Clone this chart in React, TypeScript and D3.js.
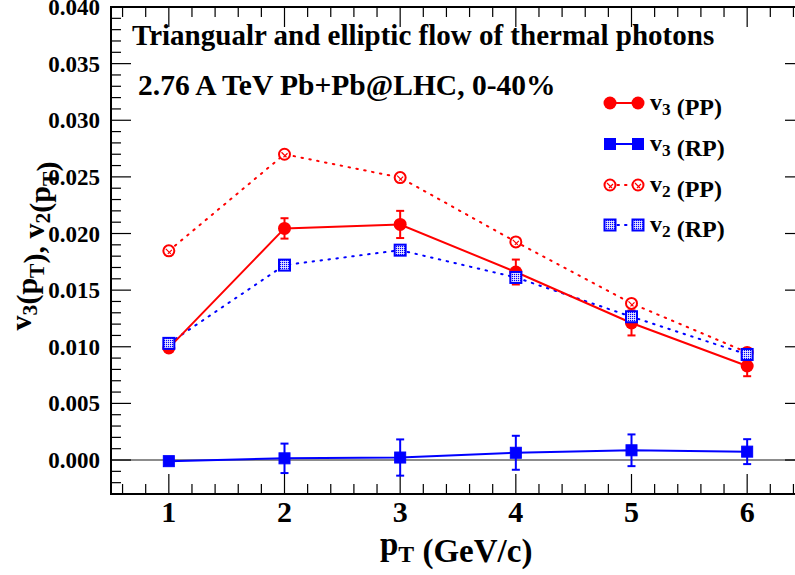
import React from 'react';
import * as d3 from 'd3';

const pt = [1, 2, 3, 4, 5, 6];
const v3PP = [0.0099, 0.02045, 0.0208, 0.0166, 0.0121, 0.0083];
const v3PPErr = [0.0003, 0.0009, 0.0012, 0.0011, 0.0011, 0.0009];
const v3RP = [-0.0001, 0.00015, 0.00022, 0.00064, 0.00086, 0.00074];
const v3RPErr = [0.0003, 0.0013, 0.0016, 0.0015, 0.0014, 0.0011];
const v2PP = [0.01847, 0.0270, 0.02494, 0.01926, 0.01383, 0.0095];
const v2RP = [0.0103, 0.01721, 0.01853, 0.01612, 0.01265, 0.00932];
const yTicks = [0, 0.005, 0.01, 0.015, 0.02, 0.025, 0.03, 0.035, 0.04];
const xTicks = [1, 2, 3, 4, 5, 6];

const W = 795;
const H = 575;
const left = 111;
const top = 7;
const bottom = 494;
const right = 805;
const RED = '#ff0000';
const BLUE = '#0000ff';
const FONT = "'Liberation Serif', 'Times New Roman', Times, 'DejaVu Serif', serif";

const x = d3.scaleLinear().domain([0.5, 6.5]).range([left, right]);
const y = d3.scaleLinear().domain([-0.003, 0.04]).range([bottom, top]);

const lineGen = d3
  .line<number>()
  .x((_, i) => x(pt[i]))
  .y((d) => y(d));

function Sub({ base, sub }: { base: string; sub: string }) {
  return (
    <>
      <tspan>{base}</tspan>
      <tspan dy="0.3em" fontSize="0.72em">{sub}</tspan>
      <tspan dy="-0.216em"></tspan>
    </>
  );
}

function Square({ cx, cy, hatched }: { cx: number; cy: number; hatched?: boolean }) {
  const s = 11;
  return (
    <rect
      x={cx - s / 2}
      y={cy - s / 2}
      width={s}
      height={s}
      fill={hatched ? 'url(#dither)' : BLUE}
      stroke={BLUE}
      strokeWidth={hatched ? 2 : 1}
    />
  );
}

function OpenCircle({ cx, cy }: { cx: number; cy: number }) {
  return (
    <g>
      <circle cx={cx} cy={cy} r={5.5} fill="white" stroke={RED} strokeWidth={2} />
      <path d={`M${cx - 3},${cy - 2} L${cx + 2},${cy + 3} M${cx - 1},${cy + 3} L${cx + 3},${cy - 1}`} stroke={RED} strokeWidth={1.2} />
    </g>
  );
}

function ErrBar({ cx, v, e, color }: { cx: number; v: number; e: number; color: string }) {
  const y1 = y(v + e);
  const y2 = y(v - e);
  return (
    <g stroke={color} strokeWidth={2}>
      <line x1={cx} x2={cx} y1={y1} y2={y2} />
      <line x1={cx - 4} x2={cx + 4} y1={y1} y2={y1} />
      <line x1={cx - 4} x2={cx + 4} y1={y2} y2={y2} />
    </g>
  );
}

export default function App() {
  const minorX = d3.range(0.6, 6.5, 0.2).map((d) => +d.toFixed(1));
  const minorY = d3.range(-0.003, 0.0401, 0.001).map((d) => +d.toFixed(3));

  const legend = [
    { label: '3', tag: '(PP)', kind: 'v3PP' },
    { label: '3', tag: '(RP)', kind: 'v3RP' },
    { label: '2', tag: '(PP)', kind: 'v2PP' },
    { label: '2', tag: '(RP)', kind: 'v2RP' },
  ];
  const legY = [103, 144, 185, 225];

  return (
    <svg
      width={W}
      height={H}
      style={{ position: 'absolute', left: 0, top: 0, background: 'white', fontFamily: FONT, fontWeight: 'bold' }}
    >
      <defs>
        <pattern id="dither" width="2" height="2" patternUnits="userSpaceOnUse">
          <rect width="2" height="2" fill="#c8c8ff" />
          <rect width="1" height="1" fill={BLUE} />
          <rect x="1" y="1" width="1" height="1" fill="#e8e8ff" />
        </pattern>
      </defs>

      {/* zero line */}
      <line x1={left} x2={right} y1={y(0)} y2={y(0)} stroke="#666" strokeWidth={1.5} />

      {/* ticks */}
      <g stroke="black" strokeWidth={1.2}>
        {minorX.map((t) => {
          const major = Math.abs(t - Math.round(t)) < 1e-6;
          const len = major ? 20 : 10;
          return (
            <g key={'x' + t}>
              <line x1={x(t)} x2={x(t)} y1={bottom} y2={bottom - len} />
              <line x1={x(t)} x2={x(t)} y1={top} y2={top + len} />
            </g>
          );
        })}
        {minorY.map((t) => {
          const major = Math.abs(t / 0.005 - Math.round(t / 0.005)) < 1e-6;
          const len = major ? 20 : 10;
          return (
            <g key={'y' + t}>
              <line x1={left} x2={left + len} y1={y(t)} y2={y(t)} />
              <line x1={right} x2={right - len} y1={y(t)} y2={y(t)} />
            </g>
          );
        })}
      </g>

      {/* frame */}
      <rect x={left} y={top} width={right - left} height={bottom - top} fill="none" stroke="black" strokeWidth={2} />

      {/* tick labels */}
      {yTicks.map((t) => (
        <text key={t} x={100} y={y(t)} dy="0.35em" textAnchor="end" fontSize={23}>
          {t.toFixed(3)}
        </text>
      ))}
      {xTicks.map((t) => (
        <text key={t} x={x(t)} y={522} textAnchor="middle" fontSize={30}>
          {t}
        </text>
      ))}

      {/* axis titles */}
      <text x={380} y={555} fontSize={33}>
        <Sub base="p" sub="T" /> (GeV/c)
      </text>
      <text transform="translate(31,246) rotate(-90)" textAnchor="middle" fontSize={30}>
        <Sub base="v" sub="3" />(<Sub base="p" sub="T" />), <Sub base="v" sub="2" />(<Sub base="p" sub="T" />)
      </text>

      {/* annotations */}
      <text x={132} y={45} fontSize={29}>Triangualr and elliptic flow of thermal photons</text>
      <text x={138} y={95} fontSize={29.5}>2.76 A TeV Pb+Pb@LHC, 0-40%</text>

      {/* v2 (PP) */}
      <path d={lineGen(v2PP) || ''} fill="none" stroke={RED} strokeWidth={2} strokeDasharray="1.5 6.5" strokeLinecap="round" />
      {/* v2 (RP) */}
      <path d={lineGen(v2RP) || ''} fill="none" stroke={BLUE} strokeWidth={2} strokeDasharray="1.5 6.5" strokeLinecap="round" />
      {/* v3 (PP) */}
      <path d={lineGen(v3PP) || ''} fill="none" stroke={RED} strokeWidth={2} />
      {/* v3 (RP) */}
      <path d={lineGen(v3RP) || ''} fill="none" stroke={BLUE} strokeWidth={2} />

      {pt.map((p, i) => (
        <g key={'e' + p}>
          <ErrBar cx={x(p)} v={v3PP[i]} e={v3PPErr[i]} color={RED} />
          <ErrBar cx={x(p)} v={v3RP[i]} e={v3RPErr[i]} color={BLUE} />
        </g>
      ))}
      {pt.map((p, i) => (
        <g key={'m' + p}>
          <circle cx={x(p)} cy={y(v3PP[i])} r={6.5} fill={RED} />
          <Square cx={x(p)} cy={y(v3RP[i])} />
          <OpenCircle cx={x(p)} cy={y(v2PP[i])} />
          <Square cx={x(p)} cy={y(v2RP[i])} hatched />
        </g>
      ))}

      {/* legend */}
      {legend.map((l, i) => {
        const ly = legY[i];
        const x1 = 610;
        const x2 = 638;
        return (
          <g key={l.kind + l.tag}>
            {l.kind === 'v3PP' && (
              <>
                <line x1={x1} x2={x2} y1={ly} y2={ly} stroke={RED} strokeWidth={2} />
                <circle cx={x1} cy={ly} r={6.5} fill={RED} />
                <circle cx={x2} cy={ly} r={6.5} fill={RED} />
              </>
            )}
            {l.kind === 'v3RP' && (
              <>
                <line x1={x1} x2={x2} y1={ly} y2={ly} stroke={BLUE} strokeWidth={2} />
                <Square cx={x1} cy={ly} />
                <Square cx={x2} cy={ly} />
              </>
            )}
            {l.kind === 'v2PP' && (
              <>
                <line x1={x1} x2={x2} y1={ly} y2={ly} stroke={RED} strokeWidth={2} strokeDasharray="1.5 6" strokeLinecap="round" />
                <OpenCircle cx={x1} cy={ly} />
                <OpenCircle cx={x2} cy={ly} />
              </>
            )}
            {l.kind === 'v2RP' && (
              <>
                <line x1={x1} x2={x2} y1={ly} y2={ly} stroke={BLUE} strokeWidth={2} strokeDasharray="1.5 6" strokeLinecap="round" />
                <Square cx={x1} cy={ly} hatched />
                <Square cx={x2} cy={ly} hatched />
              </>
            )}
            <text x={650} y={ly} dy="0.3em" fontSize={24}>
              <Sub base="v" sub={l.label} /> {l.tag}
            </text>
          </g>
        );
      })}
    </svg>
  );
}
